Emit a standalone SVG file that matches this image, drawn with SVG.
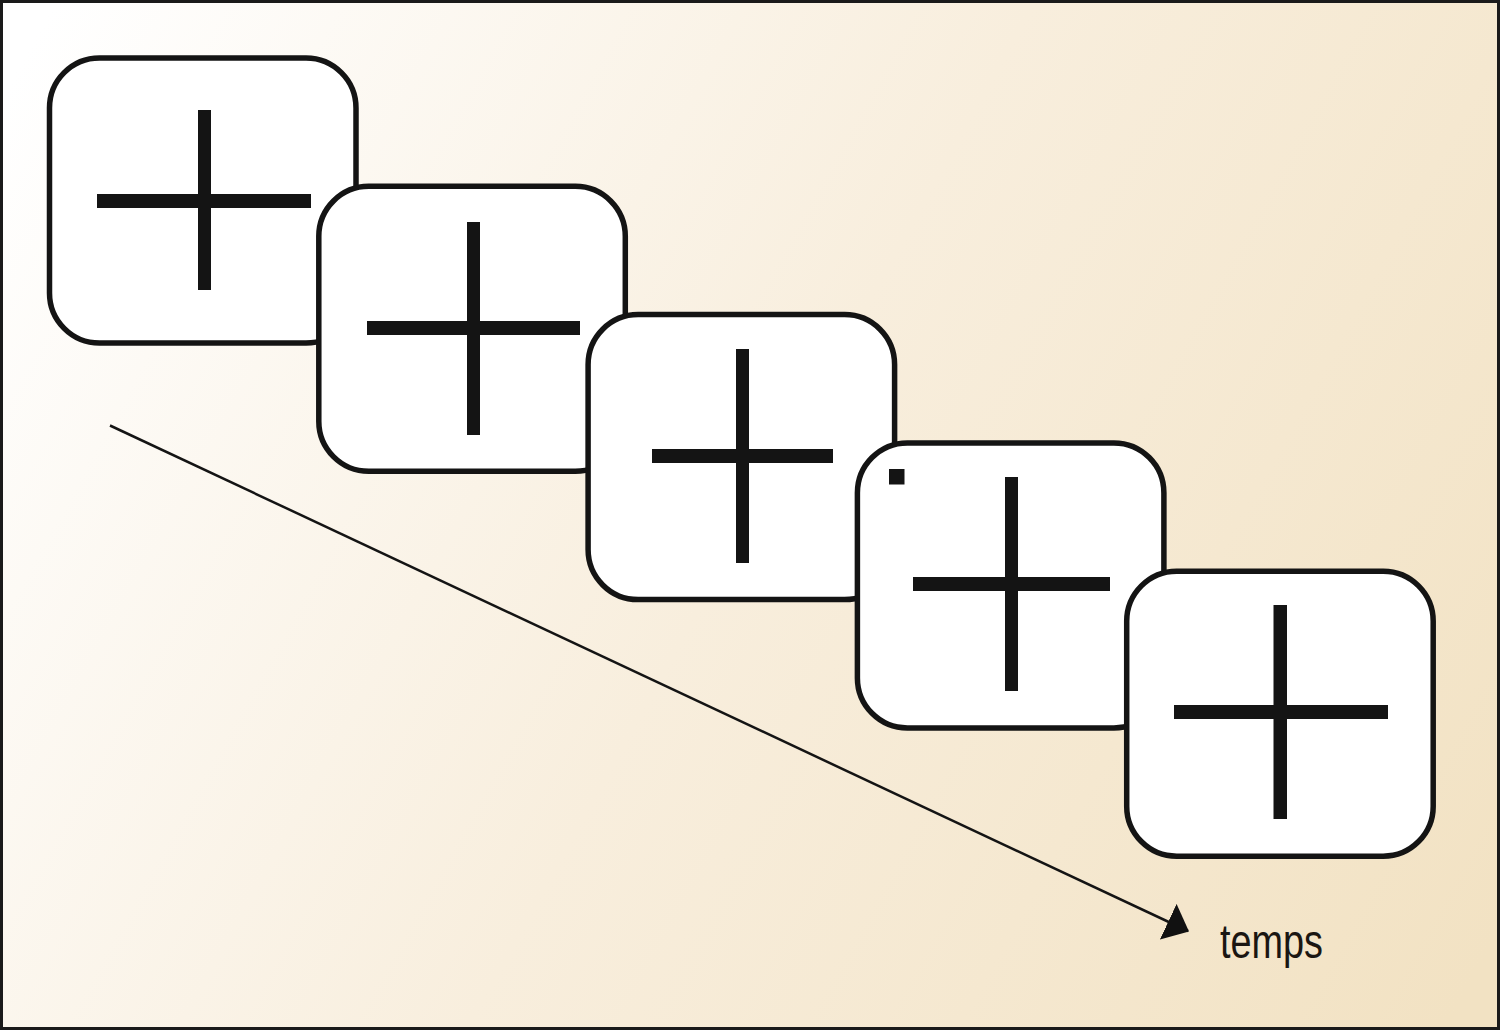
<svg xmlns="http://www.w3.org/2000/svg" width="1500" height="1030" viewBox="0 0 1500 1030">
<defs>
<linearGradient id="bg" gradientUnits="userSpaceOnUse" x1="0" y1="100" x2="1500" y2="930">
<stop offset="0" stop-color="#ffffff"/>
<stop offset="0.5" stop-color="#f8eedd"/>
<stop offset="1" stop-color="#f2e2c3"/>
</linearGradient>
<marker id="ah" markerUnits="userSpaceOnUse" markerWidth="24" markerHeight="40" refX="20" refY="18" orient="auto" viewBox="0 0 22 36">
<path d="M0,0 L21,18 L0,36 Z" fill="#111"/>
</marker>
<style>
.card{fill:#ffffff;stroke:#141414;stroke-width:5.5}
.bar{fill:#141414}
.lbl{font-family:"Liberation Sans",Arial,sans-serif;font-size:48px;fill:#1a1612}
</style>
</defs>
<rect x="0" y="0" width="1500" height="1030" fill="url(#bg)"/>
<rect x="1.5" y="1.5" width="1497" height="1027" fill="none" stroke="#1a1a1a" stroke-width="3"/>
<g id="connectors">
<line x1="110" y1="425.5" x2="1188" y2="931" stroke="#141414" stroke-width="2.5" marker-end="url(#ah)"/>
</g>
<g id="card1">
<rect class="card" x="49.5" y="58" width="306.5" height="285" rx="50"/>
<rect class="bar" x="198" y="110" width="13" height="180"/>
<rect class="bar" x="97" y="194" width="214" height="14"/>
</g>
<g id="card2">
<rect class="card" x="318.8" y="186.3" width="306.5" height="285" rx="50"/>
<rect class="bar" x="467" y="222" width="13" height="213"/>
<rect class="bar" x="367" y="321" width="213" height="14"/>
</g>
<g id="card3">
<rect class="card" x="588.1" y="314.6" width="306.5" height="285" rx="50"/>
<rect class="bar" x="736" y="349" width="13" height="214"/>
<rect class="bar" x="652" y="449" width="181" height="14"/>
</g>
<g id="card4">
<rect class="card" x="857.4" y="442.9" width="306.5" height="285" rx="50"/>
<rect class="bar" x="1005" y="477" width="13" height="214"/>
<rect class="bar" x="913" y="577" width="197" height="14"/>
<rect class="bar" x="889" y="469" width="15.5" height="15.5"/>
</g>
<g id="card5">
<rect class="card" x="1126.7" y="571.2" width="306.5" height="285" rx="50"/>
<rect class="bar" x="1273.5" y="605" width="13.5" height="214"/>
<rect class="bar" x="1174" y="705" width="214" height="14"/>
</g>
<text class="lbl" x="1220" y="958" textLength="103" lengthAdjust="spacingAndGlyphs">temps</text>
</svg>
